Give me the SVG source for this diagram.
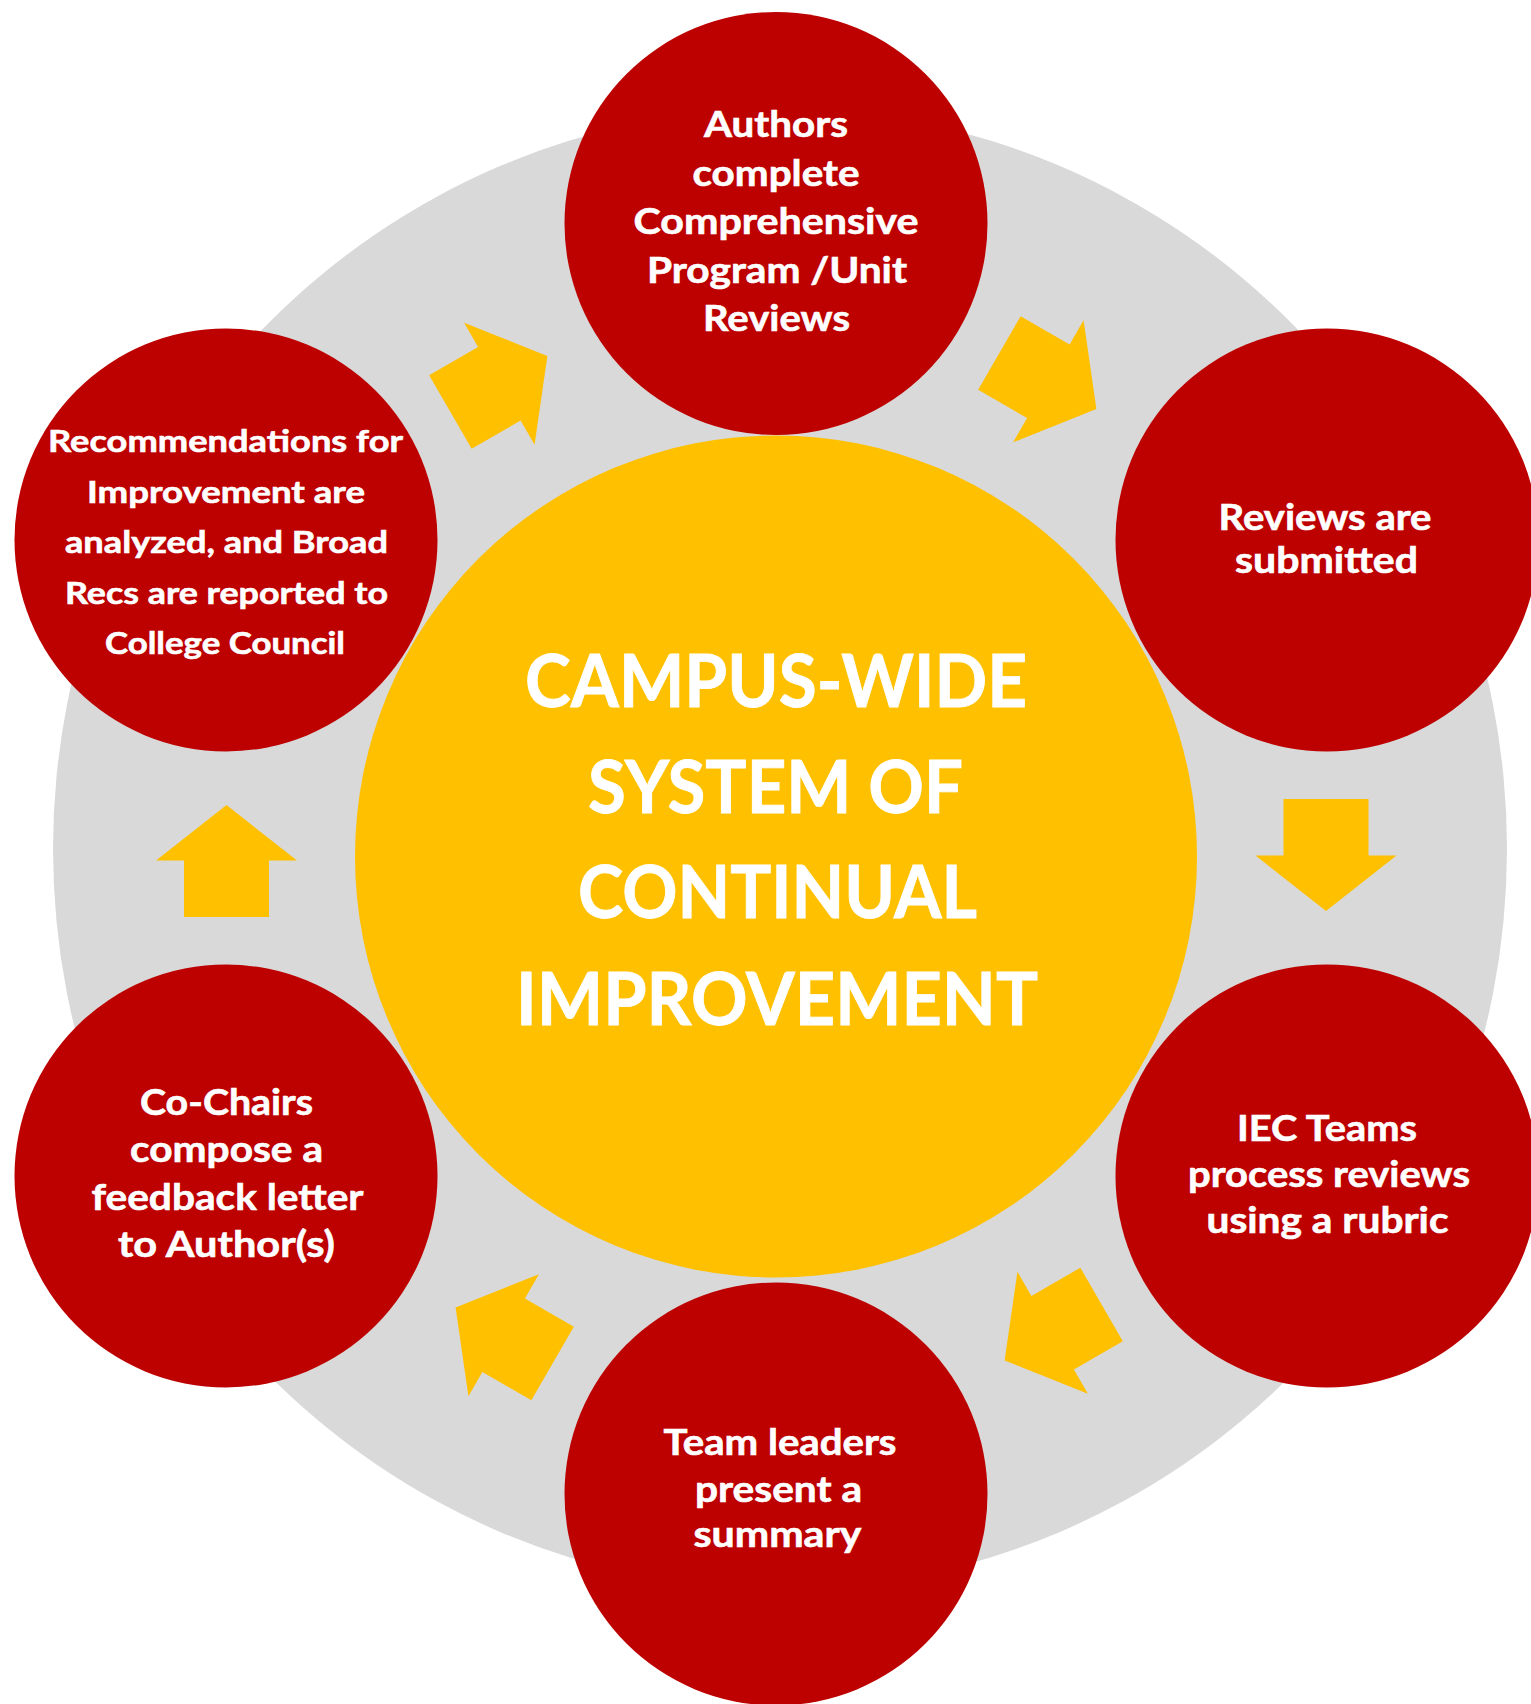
<svg xmlns="http://www.w3.org/2000/svg" xmlns:xlink="http://www.w3.org/1999/xlink" width="1531" height="1704" viewBox="0 0 1531 1704">
  <style>
    .ring { fill: #D9D9D9; }
    .hub { fill: #FFC000; }
    .step { fill: #BD0000; }
    .arrow { fill: #FFC000; }
    .t { font-family: Lato, "Liberation Sans", sans-serif; font-weight: bold; fill: #FFFFFF; stroke: #FFFFFF; stroke-width: 0.6px; text-anchor: middle; }
    .s34 { font-size: 36px; }
    .s30 { font-size: 31px; }
    .big { font-size: 73px; stroke-width: 0.8px; }
  </style>
  <defs>
    <path id="arr" d="M-42.5,-59 H42.5 V-2.5 H70.5 L0,53 L-70.5,-2.5 H-42.5 Z"/>
  </defs>
  <rect x="0" y="0" width="1531" height="1704" fill="#FFFFFF"/>
  <ellipse class="ring" cx="780" cy="849" rx="727" ry="740"/>

  <g id="hub">
    <circle class="hub" cx="776" cy="856.5" r="421"/>
    <text class="t big" x="776" y="707" textLength="502" lengthAdjust="spacingAndGlyphs">CAMPUS-WIDE</text>
    <text class="t big" x="775.5" y="813" textLength="375" lengthAdjust="spacingAndGlyphs">SYSTEM OF</text>
    <text class="t big" x="777.5" y="918" textLength="399" lengthAdjust="spacingAndGlyphs">CONTINUAL</text>
    <text class="t big" x="777" y="1025" textLength="522" lengthAdjust="spacingAndGlyphs">IMPROVEMENT</text>
  </g>

  <g id="connectors">
    <use xlink:href="#arr" class="arrow" transform="translate(501.5,382.5) rotate(-120)"/>
    <use xlink:href="#arr" class="arrow" transform="translate(1050.5,382.5) rotate(-60)"/>
    <use xlink:href="#arr" class="arrow" transform="translate(1326,858) rotate(0)"/>
    <use xlink:href="#arr" class="arrow" transform="translate(1050.5,1334) rotate(60)"/>
    <use xlink:href="#arr" class="arrow" transform="translate(501.5,1334) rotate(120)"/>
    <use xlink:href="#arr" class="arrow" transform="translate(226.5,858) rotate(180)"/>
  </g>

  <g id="node-authors">
    <circle class="step" cx="776" cy="223.5" r="211.5"/>
    <text class="t s34" x="776" y="137" textLength="144" lengthAdjust="spacingAndGlyphs">Authors</text>
    <text class="t s34" x="776" y="185.5" textLength="167" lengthAdjust="spacingAndGlyphs">complete</text>
    <text class="t s34" x="776" y="234" textLength="285" lengthAdjust="spacingAndGlyphs">Comprehensive</text>
    <text class="t s34" x="777" y="282.5" textLength="260" lengthAdjust="spacingAndGlyphs">Program /Unit</text>
    <text class="t s34" x="776.5" y="331" textLength="147" lengthAdjust="spacingAndGlyphs">Reviews</text>
  </g>

  <g id="node-submitted">
    <circle class="step" cx="1327" cy="540" r="211.5"/>
    <text class="t s34" x="1325" y="530" textLength="213" lengthAdjust="spacingAndGlyphs">Reviews are</text>
    <text class="t s34" x="1326.5" y="573" textLength="183" lengthAdjust="spacingAndGlyphs">submitted</text>
  </g>

  <g id="node-iec">
    <circle class="step" cx="1327" cy="1176" r="211.5"/>
    <text class="t s34" x="1327" y="1141" textLength="180" lengthAdjust="spacingAndGlyphs">IEC Teams</text>
    <text class="t s34" x="1329" y="1187" textLength="282" lengthAdjust="spacingAndGlyphs">process reviews</text>
    <text class="t s34" x="1327.5" y="1233" textLength="242" lengthAdjust="spacingAndGlyphs">using a rubric</text>
  </g>

  <g id="node-summary">
    <circle class="step" cx="776" cy="1494" r="211.5"/>
    <text class="t s34" x="780" y="1455" textLength="233" lengthAdjust="spacingAndGlyphs">Team leaders</text>
    <text class="t s34" x="778.5" y="1502" textLength="167" lengthAdjust="spacingAndGlyphs">present a</text>
    <text class="t s34" x="777.5" y="1547" textLength="168" lengthAdjust="spacingAndGlyphs">summary</text>
  </g>

  <g id="node-cochairs">
    <circle class="step" cx="226" cy="1176" r="211.5"/>
    <text class="t s34" x="226.5" y="1115" textLength="173" lengthAdjust="spacingAndGlyphs">Co-Chairs</text>
    <text class="t s34" x="226.5" y="1162" textLength="193" lengthAdjust="spacingAndGlyphs">compose a</text>
    <text class="t s34" x="227.5" y="1210" textLength="272" lengthAdjust="spacingAndGlyphs">feedback letter</text>
    <text class="t s34" x="226.5" y="1257" textLength="217" lengthAdjust="spacingAndGlyphs">to Author(s)</text>
  </g>

  <g id="node-recommendations">
    <circle class="step" cx="226" cy="540" r="211.5"/>
    <text class="t s30" x="225.5" y="452" textLength="355" lengthAdjust="spacingAndGlyphs">Recommendations for</text>
    <text class="t s30" x="226" y="502.5" textLength="278" lengthAdjust="spacingAndGlyphs">Improvement are</text>
    <text class="t s30" x="226.5" y="553" textLength="323" lengthAdjust="spacingAndGlyphs">analyzed, and Broad</text>
    <text class="t s30" x="226.5" y="603.5" textLength="323" lengthAdjust="spacingAndGlyphs">Recs are reported to</text>
    <text class="t s30" x="225" y="654" textLength="240" lengthAdjust="spacingAndGlyphs">College Council</text>
  </g>
</svg>
